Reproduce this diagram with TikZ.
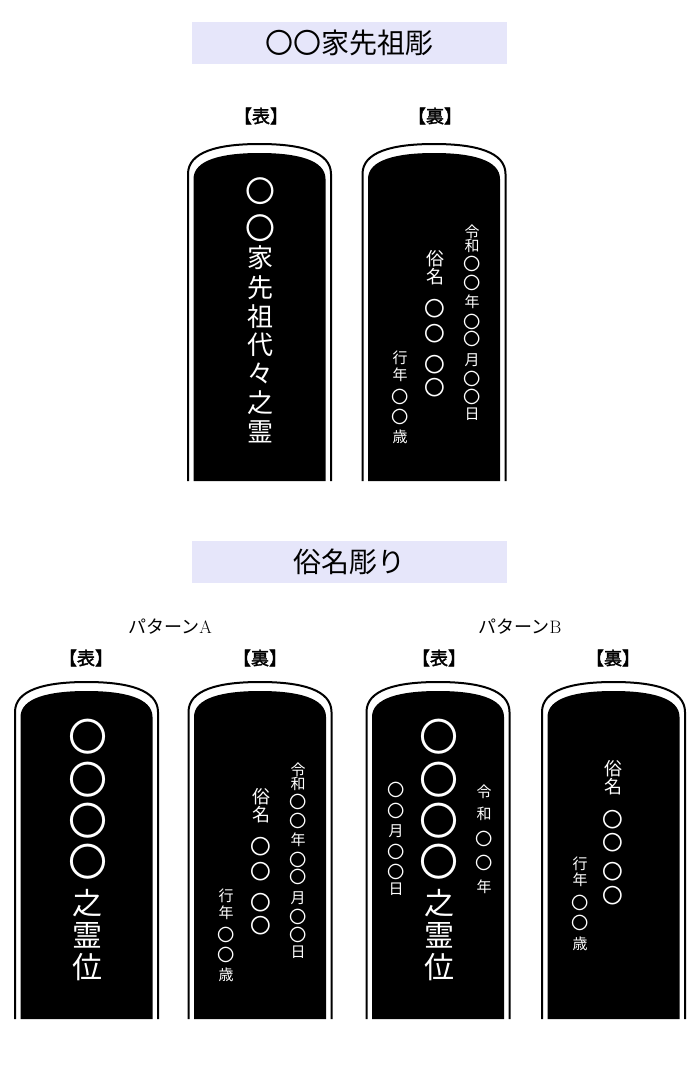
\documentclass[tikz,border=0pt]{standalone}
\usepackage{fontspec}
\newfontfamily\jp[AutoFakeBold=2]{Noto Sans CJK JP}
\definecolor{obi}{RGB}{230,230,250}
\newcommand\maru{\scalebox{1.15}{〇}}

\tikzset{
  moji/.style={text=white, inner sep=0pt, font=\jp\fontsize{#1}{#1}\selectfont},
  midashi/.style={fill=obi, minimum width=315pt, minimum height=42pt, inner sep=0pt,
    font=\jp\fontsize{28}{28}\selectfont},
  men/.style={inner sep=0pt, font=\jp\bfseries\fontsize{18}{18}\selectfont},
  pattern/.style={inner sep=0pt, font=\jp\fontsize{18}{18}\selectfont},
  % 位牌の形
  ihai/.pic={
    \draw[line width=2pt, fill=white] (-71.5,337) -- (-71.5,30)
      .. controls (-71.5,8) and (-42,0) .. (0,0)
      .. controls (42,0) and (71.5,8) .. (71.5,30) -- (71.5,337);
    \fill (-66,337) -- (-66,35) .. controls (-66,16) and (-38,9) .. (0,9)
      .. controls (38,9) and (66,16) .. (66,35) -- (66,337) -- cycle;
  },
  % 裏（令和・俗名・行年）
  ura/.pic={
    \foreach \c/\y [count=\i] in {令/88,和/102,\maru/120,\maru/139,年/158,\maru/178,\maru/195,月/216,\maru/235,\maru/253,日/270}
      \node[moji=15] (-wa\i) at (38,\y) {\c};
    \foreach \c/\y [count=\i] in {俗/115,名/133,\maru/165,\maru/190,\maru/221,\maru/244}
      \node[moji=18] (-zoku\i) at (1,\y) {\c};
    \foreach \c/\y [count=\i] in {行/214,年/231,\maru/253,\maru/273,歳/293}
      \node[moji=15] (-gyo\i) at (-34,\y) {\c};
  },
  % 表（戒名）
  reii/.pic={
    \foreach \y [count=\i] in {55,98,139,180}
      \node[moji=39] (-maru\i) at (1,\y) {〇};
    \foreach \c/\y [count=\i] in {之/221,霊/253,位/285}
      \node[moji=30] (-rei\i) at (1,\y) {\c};
  }
}

\begin{document}
\begin{tikzpicture}[x=1pt,y=-1pt]
\path[fill=white, use as bounding box] (0,0) rectangle (700,1081);

% 〇〇家先祖彫
\node[midashi] (midashi1) at (349.5,43) {〇〇家先祖彫};
\node[men] (omote1) at (261,116) {【表】};
\node[men] (ura1) at (435,116) {【裏】};

\pic at (259.5,144) {ihai};
\pic at (434,144) {ihai};

\foreach \c/\y [count=\i] in {\maru/191,\maru/228,家/258,先/288,祖/317,代/345,々/373,之/403,霊/432}
  \node[moji=26] (senzo\i) at (260,\y) {\c};
\pic (uramen1) at (434,144) {ura};

% 俗名彫り
\node[midashi] (midashi2) at (349.5,562) {俗名彫り};
\node[pattern] (patA) at (170,627) {パターン{\rmfamily A}};
\node[pattern] (patB) at (520,627) {パターン{\rmfamily B}};
\node[men] (omote2) at (86,658) {【表】};
\node[men] (ura2) at (260,658) {【裏】};
\node[men] (omote3) at (439,658) {【表】};
\node[men] (ura3) at (613,658) {【裏】};

\pic at (86.5,682) {ihai};
\pic at (260,682) {ihai};
\pic at (438,682) {ihai};
\pic at (613.5,682) {ihai};

% パターンA
\pic (omoteA) at (86.5,682) {reii};
\pic (uraA) at (260,682) {ura};

% パターンB
\pic (omoteB) at (438,682) {reii};
\foreach \c/\y [count=\i] in {\maru/790,\maru/811,月/831,\maru/852,\maru/872,日/889}
  \node[moji=15] (hiB\i) at (396,\y) {\c};
\foreach \c/\y [count=\i] in {令/792,和/814,\maru/839,\maru/863,年/887}
  \node[moji=15] (nenB\i) at (484,\y) {\c};
\foreach \c/\y [count=\i] in {俗/769,名/787,\maru/820,\maru/843,\maru/872,\maru/896}
  \node[moji=18] (zokuB\i) at (613,\y) {\c};
\foreach \c/\y [count=\i] in {行/864,年/880,\maru/903,\maru/923,歳/944}
  \node[moji=15] (gyoB\i) at (580,\y) {\c};

\end{tikzpicture}
\end{document}
